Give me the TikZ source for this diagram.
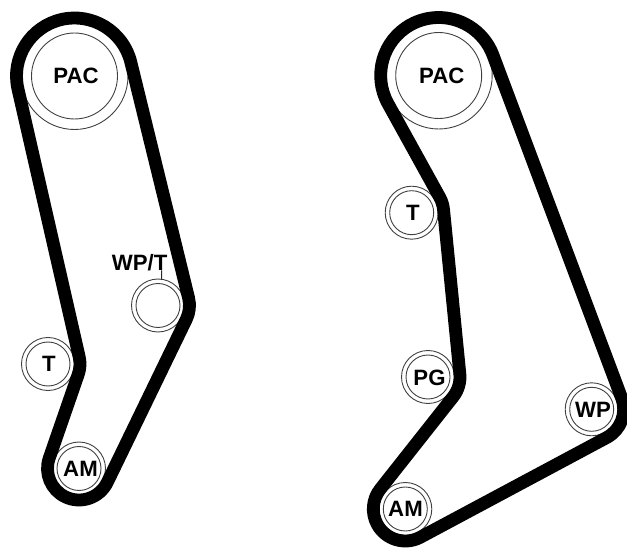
\documentclass[tikz,border=0pt]{standalone}
\usepackage{fontspec}
\setmainfont{Liberation Sans}
\usetikzlibrary{calc}
\newcommand\tanang[7]{\pgfmathsetmacro{#1}{atan2((#6)-(#3),(#5)-(#2))+acos(((#4)-(#7))/veclen((#5)-(#2),(#6)-(#3)))}}
\tikzset{
  belt/.style={line width=12.8pt,line join=round,black},
  ring/.style={circle,draw=black!75,line width=0.9pt,inner sep=0pt,outer sep=0pt},
  bigouter/.style={ring,minimum size=107pt},
  biginner/.style={ring,minimum size=86pt},
  smallouter/.style={ring,minimum size=53pt},
  smallinner/.style={ring,minimum size=44pt},
  lbl/.style={font=\bfseries\fontsize{22.2pt}{22.2pt}\selectfont,inner sep=0pt,text=black},
  leader/.style={draw=black!85,line width=0.9pt}
}
\begin{document}
\begin{tikzpicture}[x=1pt,y=1pt]
\useasboundingbox (0,0) rectangle (627,547);
\clip (0,0) rectangle (627,547);
% --- left drive: y values are 547 - image y
\def\lPx{74.5}\def\lPy{471}\def\lPr{58}
\def\lWx{158}\def\lWy{241.5}\def\lWr{31.5}
\def\lAx{79}\def\lAy{78.5}\def\lAr{31.5}
\def\lTx{48}\def\lTy{183}\def\lTr{-32}
\tanang\aPW{\lPx}{\lPy}{\lPr}{\lWx}{\lWy}{\lWr}
\tanang\aWA{\lWx}{\lWy}{\lWr}{\lAx}{\lAy}{\lAr}
\tanang\aAT{\lAx}{\lAy}{\lAr}{\lTx}{\lTy}{\lTr}
\tanang\aTP{\lTx}{\lTy}{\lTr}{\lPx}{\lPy}{\lPr}
\node[bigouter] (lpaco) at (\lPx,\lPy) {};
\node[biginner] (lpaci) at (\lPx,\lPy) {};
\node[smallouter] (lwpo) at (\lWx,\lWy) {};
\node[smallinner] (lwpi) at (\lWx,\lWy) {};
\node[smallouter] (lamo) at (\lAx,\lAy) {};
\node[smallinner] (lami) at (\lAx,\lAy) {};
\node[smallouter] (lto) at (\lTx,\lTy) {};
\node[smallinner] (lti) at (\lTx,\lTy) {};
\draw[belt] ($(\lPx,\lPy)+(\aTP:\lPr)$)
  arc[start angle=\aTP,delta angle={-Mod(\aTP-\aPW,360)},radius=\lPr pt]
  -- ($(\lWx,\lWy)+(\aPW:\lWr)$)
  arc[start angle=\aPW,delta angle={-Mod(\aPW-\aWA,360)},radius=\lWr pt]
  -- ($(\lAx,\lAy)+(\aWA:\lAr)$)
  arc[start angle=\aWA,delta angle={-Mod(\aWA-\aAT,360)},radius=\lAr pt]
  -- ($(\lTx,\lTy)+(\aAT+180:32)$)
  arc[start angle=\aAT+180,delta angle={Mod(\aTP-\aAT,360)},radius=32pt]
  -- cycle;
\node[lbl] (lpact) at (76,471) {PAC};
\node[lbl] (lamt) at (80.5,78) {AM};
\node[lbl] (ltt) at (49,183) {T};
\node[lbl] (lwpt) at (139.7,284.5) {WP/T};
\coordinate (lead) at (161.7,277);
\draw[leader] (lead) -- (lwpo.82);
% --- right drive
\def\rPx{438.7}\def\rPy{471.5}\def\rPr{58}
\def\rWx{591.7}\def\rWy{137.7}\def\rWr{32}
\def\rAx{405.3}\def\rAy{38}\def\rAr{32}
\def\rGx{428}\def\rGy{170}\def\rGr{-32}
\def\rTx{411.7}\def\rTy{334.3}\def\rTr{-32}
\tanang\bPW{\rPx}{\rPy}{\rPr}{\rWx}{\rWy}{\rWr}
\tanang\bWA{\rWx}{\rWy}{\rWr}{\rAx}{\rAy}{\rAr}
\tanang\bAG{\rAx}{\rAy}{\rAr}{\rGx}{\rGy}{\rGr}
\tanang\bGT{\rGx}{\rGy}{\rGr}{\rTx}{\rTy}{\rTr}
\tanang\bTP{\rTx}{\rTy}{\rTr}{\rPx}{\rPy}{\rPr}
\node[bigouter] (rpaco) at (\rPx,\rPy) {};
\node[biginner] (rpaci) at (\rPx,\rPy) {};
\node[smallouter] (rwpo) at (\rWx,\rWy) {};
\node[smallinner] (rwpi) at (\rWx,\rWy) {};
\node[smallouter] (ramo) at (\rAx,\rAy) {};
\node[smallinner] (rami) at (\rAx,\rAy) {};
\node[smallouter] (rpgo) at (\rGx,\rGy) {};
\node[smallinner] (rpgi) at (\rGx,\rGy) {};
\node[smallouter] (rto) at (\rTx,\rTy) {};
\node[smallinner] (rti) at (\rTx,\rTy) {};
\draw[belt] ($(\rPx,\rPy)+(\bTP:\rPr)$)
  arc[start angle=\bTP,delta angle={-Mod(\bTP-\bPW,360)},radius=\rPr pt]
  -- ($(\rWx,\rWy)+(\bPW:\rWr)$)
  arc[start angle=\bPW,delta angle={-Mod(\bPW-\bWA,360)},radius=\rWr pt]
  -- ($(\rAx,\rAy)+(\bWA:\rAr)$)
  arc[start angle=\bWA,delta angle={-Mod(\bWA-\bAG,360)},radius=\rAr pt]
  -- ($(\rGx,\rGy)+(\bAG+180:32)$)
  arc[start angle=\bAG+180,delta angle={Mod(\bGT-\bAG,360)},radius=32pt]
  -- ($(\rTx,\rTy)+(\bGT+180:32)$)
  arc[start angle=\bGT+180,delta angle={Mod(\bTP-\bGT,360)},radius=32pt]
  -- cycle;
\node[lbl] (rpact) at (441.7,471) {PAC};
\node[lbl] (ramt) at (405.5,38) {AM};
\node[lbl] (rwpt) at (593,137.5) {WP};
\node[lbl] (rpgt) at (429.5,169.5) {PG};
\node[lbl] (rtt) at (413,334.5) {T};
\end{tikzpicture}
\end{document}
